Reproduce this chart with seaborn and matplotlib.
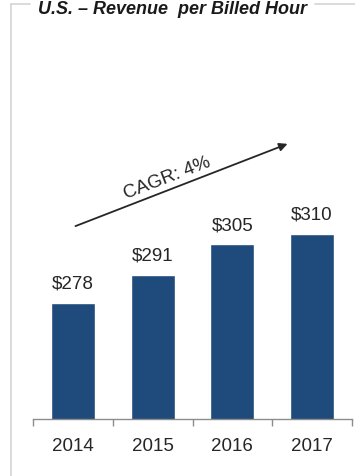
import seaborn as sns
import matplotlib.pyplot as plt
from matplotlib.lines import Line2D

years = ["2014", "2015", "2016", "2017"]
revenue = [278, 291, 305, 310]
labels = ["$278", "$291", "$305", "$310"]

sns.set_style("white")
plt.rcParams["font.family"] = ["Liberation Sans", "DejaVu Sans"]

fig = plt.figure(figsize=(3.55, 4.77), dpi=100)
ax = fig.add_axes([33 / 355, 57 / 477, 319 / 355, 390 / 477])

sns.barplot(x=years, y=revenue, color="#1F4A7C", width=0.55, saturation=1, ax=ax)
ax.bar_label(ax.containers[0], labels=labels, padding=8, fontsize=13.5, color="#262626")

ax.set_xlim(-0.5, 3.5)
ax.set_ylim(224, 405)
ax.set_yticks([])
for s in ["top", "right", "left"]:
    ax.spines[s].set_visible(False)
ax.spines["bottom"].set_color("#8c8c8c")
ax.spines["bottom"].set_linewidth(1)
ax.set_xticks(range(4))
ax.set_xticklabels(years, fontsize=13.5, color="#262626")
ax.tick_params(axis="x", which="major", length=0, pad=13)
ax.set_xticks([-0.5, 0.5, 1.5, 2.5, 3.5], minor=True)
ax.tick_params(axis="x", which="minor", length=5, width=1, color="#8c8c8c", direction="out", bottom=True)

# CAGR arrow
ax.annotate("", xy=(0.806, 0.708), xytext=(0.125, 0.492), xycoords="axes fraction",
            arrowprops=dict(arrowstyle="-|>", color="#262626", lw=1.3, mutation_scale=12))
ax.text(0.42, 0.62, "CAGR: 4%", transform=ax.transAxes, rotation=21, fontsize=13.5,
        color="#262626", ha="center", va="center", rotation_mode="anchor")

# panel frame
fc = "#d4d4d4"
fig.add_artist(Line2D([11 / 355, 11 / 355], [0, 1 - 5 / 477], color=fc, lw=1.2))
fig.add_artist(Line2D([11 / 355, 30 / 355], [1 - 5 / 477, 1 - 5 / 477], color=fc, lw=1.2))
fig.add_artist(Line2D([315 / 355, 1], [1 - 5 / 477, 1 - 5 / 477], color=fc, lw=1.2))

fig.text(172 / 355, 1 - 14 / 477, "U.S. – Revenue  per Billed Hour", ha="center", va="baseline",
         fontsize=13, fontweight="bold", fontstyle="italic", color="#1a1a1a")

fig.savefig("out.png", dpi=100)
